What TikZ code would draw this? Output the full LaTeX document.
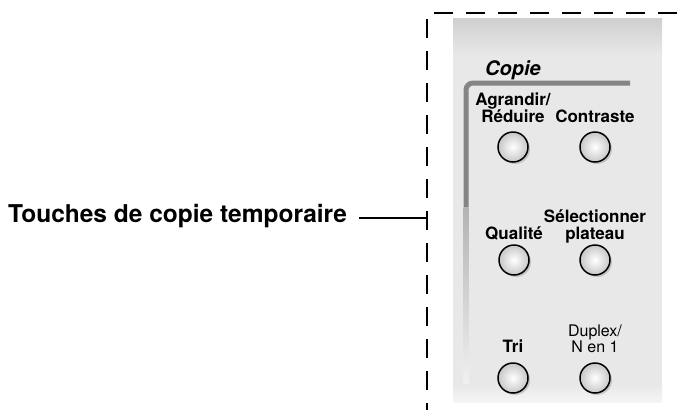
\documentclass[tikz,border=0pt]{standalone}
\usepackage{fontspec}
\setmainfont{TeX Gyre Heros}
\usetikzlibrary{positioning, shadows}

\begin{document}
\begin{tikzpicture}[x=1pt, y=-1pt, font=\bfseries,
  btn/.style={circle, draw=black, line width=1.5pt, minimum size=30pt, inner sep=0pt,
    inner color=white, outer color=black!22,
    drop shadow={opacity=0.35, shadow xshift=2pt, shadow yshift=-2pt}},
  key/.style={font=\fontsize{17}{16.5}\bfseries, align=center, inner sep=0pt, text depth=0pt},
  frame/.style={line width=2.4pt, dash pattern=on 19pt off 13pt}]
  \useasboundingbox (0,0) rectangle (677,410);
  % panel
  \shade[top color=black!19, bottom color=black!9] (453,18) rectangle (662,55);
  \fill[black!9] (453,55) rectangle (662,385);
  \shade[top color=black!9, bottom color=black!4] (453,385) rectangle (662,402);
  \draw[line width=5pt, black!48, rounded corners=7pt] (630,83) -- (466,83) -- (466,207);
  \shade[top color=black!30, bottom color=black!6] (463.5,207) rectangle (468.5,383);
  \node[anchor=base west, inner sep=0pt, font=\fontsize{20}{20}\bfseries\itshape] (copie) at (485,75) {Copie};
  % buttons
  \node[btn] (agr) at (513,147) {};
  \node[btn] (con) at (595,147) {};
  \node[btn] (qual) at (514,260) {};
  \node[btn] (sel) at (595,260) {};
  \node[btn] (tri) at (513,378) {};
  \node[btn] (dup) at (595,378) {};
  \node[key, above=9pt of agr] (agrl) {Agrandir/\\R\'eduire};
  \node[key, above=9pt of con] (conl) {Contraste};
  \node[key, above=5pt of qual] (quall) {Qualit\'e};
  \node[key, above=5pt of sel] (sell) {S\'electionner\\plateau};
  \node[key, above=10pt of tri] (tril) {Tri};
  \node[key, above=10pt of dup, font=\fontsize{16}{16}\selectfont] (dupl) {Duplex/\\N en 1};
  % dashed outline and label
  \draw[frame] (677,13) -- (427,13) -- (427,410);
  \coordinate (edge) at (427,218);
  \node[anchor=base west, inner sep=0pt, font=\fontsize{24.5}{25}\bfseries] (tmp) at (8,222) {Touches de copie temporaire};
  \draw[line width=1.5pt] ([xshift=12pt]tmp.east |- edge) -- (edge);
\end{tikzpicture}
\end{document}
